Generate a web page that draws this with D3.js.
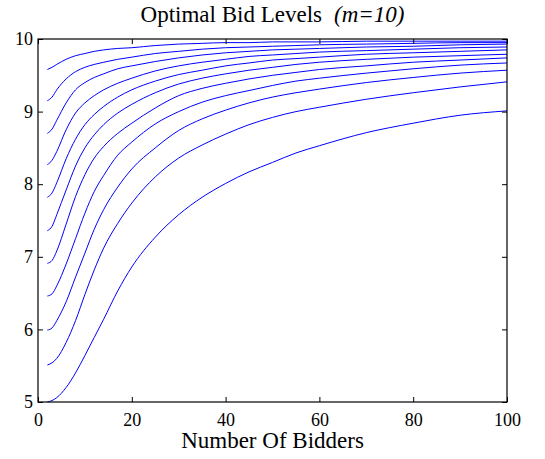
<!DOCTYPE html>
<html>
<head>
<meta charset="utf-8">
<script src="https://cdn.jsdelivr.net/npm/d3@7"></script>
<style>
  body { margin: 0; background: #fff; }
  svg { display: block; }
</style>
</head>
<body>
<div id="chart"></div>
<script>
// number of bidders where values were read
const bidders = [2, 3, 4, 6, 8, 10, 12, 14, 17, 20, 25, 30, 35, 40, 45, 50, 55, 60, 70, 80, 90, 100];

// one array per bid level, lowest first
const level0 = [5.00, 5.02, 5.06, 5.20, 5.40, 5.64, 5.89, 6.14, 6.53, 6.86, 7.27, 7.58, 7.82, 8.01, 8.17, 8.30, 8.43, 8.53, 8.71, 8.84, 8.95, 9.01];
const level1 = [5.51, 5.54, 5.60, 5.82, 6.12, 6.48, 6.82, 7.12, 7.46, 7.74, 8.10, 8.36, 8.54, 8.69, 8.82, 8.92, 9.00, 9.06, 9.17, 9.26, 9.34, 9.41];
const level2 = [5.99, 6.02, 6.12, 6.38, 6.72, 7.05, 7.38, 7.65, 7.96, 8.21, 8.50, 8.74, 8.90, 9.02, 9.12, 9.20, 9.26, 9.31, 9.40, 9.47, 9.53, 9.57];
const level3 = [6.46, 6.49, 6.60, 6.90, 7.25, 7.60, 7.90, 8.12, 8.40, 8.58, 8.83, 9.00, 9.13, 9.22, 9.29, 9.36, 9.42, 9.46, 9.53, 9.59, 9.64, 9.67];
const level4 = [6.91, 6.95, 7.08, 7.45, 7.83, 8.13, 8.36, 8.52, 8.70, 8.84, 9.05, 9.22, 9.32, 9.39, 9.45, 9.50, 9.54, 9.58, 9.63, 9.68, 9.71, 9.74];
const level5 = [7.36, 7.42, 7.58, 7.92, 8.25, 8.50, 8.68, 8.82, 8.98, 9.10, 9.26, 9.38, 9.46, 9.52, 9.57, 9.61, 9.65, 9.68, 9.72, 9.75, 9.77, 9.79];
const level6 = [7.82, 7.88, 8.02, 8.35, 8.62, 8.82, 8.96, 9.07, 9.20, 9.30, 9.42, 9.51, 9.57, 9.63, 9.67, 9.71, 9.73, 9.75, 9.79, 9.81, 9.83, 9.85];
const level7 = [8.27, 8.33, 8.45, 8.75, 8.98, 9.12, 9.22, 9.30, 9.39, 9.46, 9.56, 9.63, 9.68, 9.72, 9.76, 9.78, 9.80, 9.82, 9.84, 9.86, 9.88, 9.89];
const level8 = [8.70, 8.76, 8.88, 9.12, 9.30, 9.40, 9.47, 9.52, 9.59, 9.63, 9.69, 9.74, 9.78, 9.81, 9.83, 9.85, 9.86, 9.87, 9.89, 9.90, 9.92, 9.93];
const level9 = [9.15, 9.20, 9.30, 9.45, 9.55, 9.61, 9.65, 9.68, 9.72, 9.75, 9.80, 9.83, 9.86, 9.88, 9.89, 9.90, 9.91, 9.92, 9.93, 9.94, 9.95, 9.95];
const level10 = [9.58, 9.61, 9.65, 9.72, 9.77, 9.80, 9.83, 9.85, 9.87, 9.88, 9.91, 9.93, 9.94, 9.95, 9.95, 9.96, 9.96, 9.96, 9.97, 9.97, 9.97, 9.97];

const xTicks = [0, 20, 40, 60, 80, 100];
const yTicks = [5, 6, 7, 8, 9, 10];

const levels = [level0, level1, level2, level3, level4, level5, level6, level7, level8, level9, level10];

const serif = "Liberation Serif";
const width = 545;
const height = 459;
const marginLeft = 38;
const marginRight = 38;
const marginTop = 39;
const marginBottom = 57;

const x = d3.scaleLinear()
    .domain([0, 100])
    .range([marginLeft, width - marginRight]);
const y = d3.scaleLinear()
    .domain([5, 10])
    .range([height - marginBottom, marginTop]);

const svg = d3.select("#chart")
    .append("svg")
    .attr("width", width)
    .attr("height", height)
    .attr("viewBox", [0, 0, width, height]);

const generateLine = d3.line()
    .x((d) => x(d[0]))
    .y((d) => y(d[1]))
    .curve(d3.curveMonotoneX);

svg.append("g")
    .selectAll("path")
    .data(levels)
    .enter()
    .append("path")
    .attr("fill", "none")
    .attr("stroke", "#0000ff")
    .attr("stroke-width", 1)
    .attr("d", (vals) => generateLine(vals.map((v, i) => [bidders[i], v])));

// axes, ticks pointing inward on all four sides
const axisB = svg.append("g")
    .attr("transform", `translate(0,${height - marginBottom})`)
    .call(d3.axisBottom(x).tickValues(xTicks).tickFormat(d3.format("d"))
        .tickSizeInner(-5).tickSizeOuter(0).tickPadding(11));
const axisL = svg.append("g")
    .attr("transform", `translate(${marginLeft},0)`)
    .call(d3.axisLeft(y).tickValues(yTicks).tickFormat(d3.format("d"))
        .tickSizeInner(-5).tickSizeOuter(0).tickPadding(5));
const axisT = svg.append("g")
    .attr("transform", `translate(0,${marginTop})`)
    .call(d3.axisTop(x).tickValues(xTicks).tickSizeInner(-5).tickSizeOuter(0).tickFormat(""));
const axisR = svg.append("g")
    .attr("transform", `translate(${width - marginRight},0)`)
    .call(d3.axisRight(y).tickValues(yTicks).tickSizeInner(-5).tickSizeOuter(0).tickFormat(""));

[axisB, axisL, axisT, axisR].forEach((g) => {
    g.attr("font-family", serif).attr("font-size", 18);
    g.selectAll(".domain").remove();
    g.selectAll("line").attr("stroke", "#000");
    g.selectAll("text").attr("fill", "#000");
});

svg.append("rect")
    .attr("x", marginLeft)
    .attr("y", marginTop)
    .attr("width", width - marginLeft - marginRight)
    .attr("height", height - marginTop - marginBottom)
    .attr("fill", "none")
    .attr("stroke", "#000")
    .attr("stroke-width", 1.2);

const title = svg.append("text")
    .attr("x", (marginLeft + width - marginRight) / 2)
    .attr("y", 22)
    .attr("text-anchor", "middle")
    .attr("font-family", serif)
    .attr("font-size", 23);
title.append("tspan").text("Optimal Bid Levels");
title.append("tspan")
    .attr("dx", 12)
    .attr("font-style", "italic")
    .text("(m=10)");

svg.append("text")
    .attr("x", (marginLeft + width - marginRight) / 2)
    .attr("y", 448)
    .attr("text-anchor", "middle")
    .attr("font-family", serif)
    .attr("font-size", 23)
    .text("Number Of Bidders");
</script>
</body>
</html>
